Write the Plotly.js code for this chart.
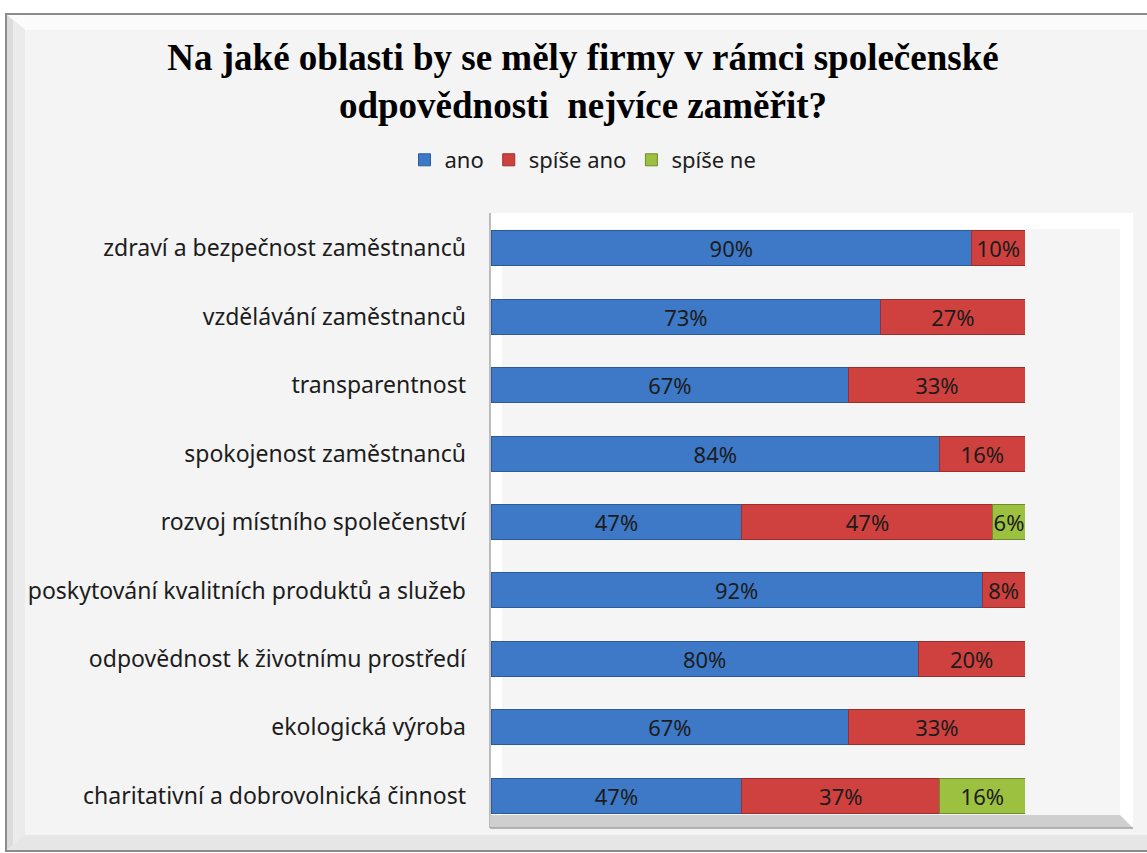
<!DOCTYPE html>
<html>
<head>
<meta charset="utf-8">
<script src="https://cdn.plot.ly/plotly-3.0.1.min.js"></script>
<style>html,body{margin:0;padding:0;background:#fff;}#chart{width:1147px;height:853px;}</style>
</head>
<body>
<div id="chart"></div>
<script>
const categories = [
  "zdraví a bezpečnost zaměstnanců",
  "vzdělávání zaměstnanců",
  "transparentnost",
  "spokojenost zaměstnanců",
  "rozvoj místního společenství",
  "poskytování kvalitních produktů a služeb",
  "odpovědnost k životnímu prostředí",
  "ekologická výroba",
  "charitativní a dobrovolnická činnost"
];
const seriesNames = ["ano", "spíše ano", "spíše ne"];
const ano      = [90, 73, 67, 84, 47, 92, 80, 67, 47];
const spiseAno = [10, 27, 33, 16, 47, 8, 20, 33, 37];
const spiseNe  = [null, null, null, null, 6, null, null, null, 16];

const colors = ["#3d79c7", "#cf413e", "#9cc03f"];
const edges  = ["#2a5a99", "#9a2f2d", "#6f8a2b"];
const seriesValues = [ano, spiseAno, spiseNe];

// pixel -> paper helpers (plot area: x 491..1025, y 214..830)
const PX = p => (p - 491) / 534;
const PY = p => (830 - p) / 616;

const FONT = "Noto Sans, sans-serif";

const traces = seriesValues.map((vals, i) => ({
  type: "bar",
  orientation: "h",
  name: seriesNames[i],
  y: categories,
  x: vals,
  marker: {color: colors[i], line: {color: edges[i], width: 1}},
  text: vals.map(v => v == null ? "" : v + "%"),
  texttemplate: "%{text}",
  textposition: "inside",
  insidetextanchor: "middle",
  textangle: 0,
  constraintext: "none",
  textfont: {family: FONT, size: 22, color: "#1c1c1c"},
  hoverinfo: "skip"
}));

const shapes = [
  {type: "rect", xref: "paper", yref: "paper", x0: PX(6), x1: PX(1170), y0: PY(851), y1: PY(14),
   fillcolor: "#f4f4f4", line: {color: "#8c8c8c", width: 2}, layer: "below"},
  {type: "path", xref: "paper", yref: "paper",
   path: `M ${PX(7)},${PY(15)} L ${PX(1170)},${PY(15)} L ${PX(1170)},${PY(30)} L ${PX(25)},${PY(30)} Z`,
   fillcolor: "#fbfbfb", line: {width: 0}, layer: "below"},
  {type: "path", xref: "paper", yref: "paper",
   path: `M ${PX(7)},${PY(15)} L ${PX(25)},${PY(30)} L ${PX(25)},${PY(835)} L ${PX(7)},${PY(850)} Z`,
   fillcolor: "#dcdcdc", line: {width: 0}, layer: "below"},
  {type: "path", xref: "paper", yref: "paper",
   path: `M ${PX(13)},${PY(20)} L ${PX(25)},${PY(30)} L ${PX(25)},${PY(835)} L ${PX(13)},${PY(845)} Z`,
   fillcolor: "#ebebeb", line: {width: 0}, layer: "below"},
  {type: "path", xref: "paper", yref: "paper",
   path: `M ${PX(7)},${PY(850)} L ${PX(25)},${PY(835)} L ${PX(1170)},${PY(835)} L ${PX(1170)},${PY(850)} Z`,
   fillcolor: "#e6e6e6", line: {width: 0}, layer: "below"},
  {type: "path", xref: "paper", yref: "paper",
   path: `M ${PX(490)},${PY(213)} L ${PX(1133)},${PY(213)} L ${PX(1133)},${PY(828)} L ${PX(490)},${PY(828)} Z`,
   fillcolor: "#ffffff", line: {width: 0}, layer: "below"},
  {type: "path", xref: "paper", yref: "paper",
   path: `M ${PX(502)},${PY(229)} L ${PX(1120)},${PY(229)} L ${PX(1120)},${PY(815)} L ${PX(502)},${PY(815)} Z`,
   fillcolor: "#f5f5f5", line: {width: 0}, layer: "below"},
  {type: "line", xref: "paper", yref: "paper", x0: PX(490), x1: PX(490), y0: PY(213), y1: PY(828),
   line: {color: "#a8a8a8", width: 1.5}, layer: "below"},
  {type: "path", xref: "paper", yref: "paper",
   path: `M ${PX(490)},${PY(815)} L ${PX(1120)},${PY(815)} L ${PX(1133)},${PY(828)} L ${PX(490)},${PY(828)} Z`,
   fillcolor: "#cfcfcf", line: {width: 0}, layer: "below"},
  {type: "line", xref: "paper", yref: "paper", x0: PX(490), x1: PX(1133), y0: PY(828), y1: PY(828),
   line: {color: "#a0a0a0", width: 1.5}, layer: "below"}
];

const layout = {
  width: 1147, height: 853,
  margin: {l: 491, r: 122, t: 214, b: 23},
  paper_bgcolor: "#ffffff",
  plot_bgcolor: "rgba(0,0,0,0)",
  barmode: "stack",
  bargap: 0.49,
  showlegend: true,
  title: {
    text: "Na jaké oblasti by se měly firmy v rámci společenské<br>odpovědnosti  nejvíce zaměřit?",
    x: 583 / 1147, xanchor: "center", xref: "container",
    y: 1 - 70 / 853, yanchor: "middle", yref: "container",
    font: {family: "Liberation Serif, serif", size: 37, color: "#000000", weight: "bold"}
  },
  legend: {
    orientation: "h",
    traceorder: "normal",
    x: PX(583), xanchor: "center",
    y: PY(160), yanchor: "middle",
    font: {family: FONT, size: 22, color: "#1c1c1c"},
    bgcolor: "rgba(0,0,0,0)",
    itemwidth: 30,
    tracegroupgap: 0
  },
  xaxis: {
    range: [0, 100],
    visible: false,
    fixedrange: true
  },
  yaxis: {
    type: "category",
    categoryorder: "array",
    categoryarray: categories,
    autorange: "reversed",
    showgrid: false, zeroline: false, showline: false,
    ticks: "",
    ticklabelstandoff: 24,
    tickfont: {family: FONT, size: 23, color: "#1c1c1c"},
    fixedrange: true
  },
  uniformtext: {minsize: 22, mode: "show"},
  shapes: shapes
};

Plotly.newPlot("chart", traces, layout, {displayModeBar: false, staticPlot: true});
</script>
</body>
</html>
